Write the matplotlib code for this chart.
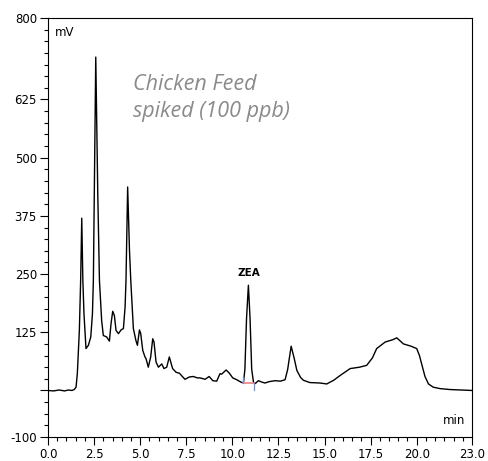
import matplotlib
matplotlib.use("Agg")
import matplotlib.pyplot as plt
from matplotlib.ticker import FixedLocator, MultipleLocator

# Chromatogram trace (time in min, signal in mV)
time_min = [0.0, 0.3, 0.6, 0.9, 1.1, 1.3, 1.42, 1.52, 1.59, 1.70, 1.77, 1.83,
            1.89, 1.95, 2.06, 2.19, 2.32, 2.41, 2.46, 2.59, 2.70, 2.79, 2.91,
            3.0, 3.18, 3.33, 3.42, 3.51, 3.6, 3.69, 3.82, 3.96, 4.09, 4.18,
            4.23, 4.32, 4.42, 4.49, 4.63, 4.77, 4.85, 4.96, 5.03, 5.14, 5.26,
            5.32, 5.44, 5.57, 5.68, 5.75, 5.86, 5.99, 6.17, 6.29, 6.44, 6.58,
            6.76, 6.95, 7.13, 7.31, 7.43, 7.67, 7.88, 8.1, 8.25, 8.52, 8.74,
            8.94, 9.15, 9.33, 9.42, 9.66, 9.84, 10.02, 10.24, 10.46, 10.6,
            10.68, 10.77, 10.87, 10.96, 11.05, 11.15, 11.25, 11.41, 11.6,
            11.77, 12.0, 12.32, 12.6, 12.86, 13.0, 13.19, 13.35, 13.5, 13.7,
            13.85, 14.2, 14.76, 15.12, 15.5, 15.84, 16.39, 16.9, 17.29, 17.6,
            17.83, 18.29, 18.7, 18.92, 19.28, 19.7, 20.0, 20.15, 20.27, 20.45,
            20.64, 20.9, 21.27, 21.8, 22.4, 23.0]
signal_mv = [0, -1, 1, -1, 1, 0, 2, 7, 36, 129, 236, 370,
             236, 165, 90, 97, 115, 165, 236, 716, 420, 236, 150,
             118, 115, 106, 144, 170, 161, 129, 122, 130, 133, 179,
             236, 437, 300, 236, 133, 107, 97, 130, 122, 86, 72,
             68, 50, 72, 111, 104, 61, 50, 57, 47, 50, 72,
             47, 39, 37, 29, 24, 29, 30, 27, 27, 24, 30,
             21, 20, 36, 35, 44, 37, 27, 23, 18, 16,
             45, 155, 226, 155, 45, 17, 15, 21, 18,
             16, 19, 21, 20, 23, 45, 95, 70, 43, 28,
             22, 17, 16, 14, 22, 32, 47, 50, 54, 70,
             90, 104, 109, 113, 100, 95, 90, 75, 57, 30,
             14, 7, 4, 2, 1, 0]

# Integration marks for the ZEA peak
zea_label = "ZEA"
zea_time = 10.87
zea_height = 226
zea_start, zea_end = 10.6, 11.18
zea_base = 16

x_major = [0.0, 2.5, 5.0, 7.5, 10.0, 12.5, 15.0, 17.5, 20.0, 23.0]
x_labels = ["0.0", "2.5", "5.0", "7.5", "10.0", "12.5", "15.0", "17.5", "20.0", "23.0"]
y_major = [-100, 0, 125, 250, 375, 500, 625, 800]
y_labels = ["-100", "", "125", "250", "375", "500", "625", "800"]

fig = plt.figure(figsize=(4.89, 4.61), dpi=100)
ax = fig.add_axes([0.0982, 0.052, 0.867, 0.909])

ax.plot(time_min, signal_mv, color="black", lw=1.0)
ax.plot([zea_start, zea_end], [zea_base, zea_base], color="#f08080", lw=1.2)
ax.plot([zea_start, zea_start], [zea_base, zea_base + 12], color="#6f8fd8", lw=0.9)
ax.plot([zea_end, zea_end], [zea_base, zea_base - 14], color="#6f8fd8", lw=0.9)
ax.text(zea_time, zea_height + 15, zea_label, ha="center", va="bottom",
        fontsize=7.5, fontweight="bold")

ax.set_xlim(0, 23)
ax.set_ylim(-100, 800)
ax.xaxis.set_major_locator(FixedLocator(x_major))
ax.set_xticklabels(x_labels)
ax.xaxis.set_minor_locator(MultipleLocator(0.5))
ax.yaxis.set_major_locator(FixedLocator(y_major))
ax.set_yticklabels(y_labels)
ax.yaxis.set_minor_locator(MultipleLocator(25))
ax.tick_params(which="major", length=6, width=0.8, labelsize=8.5, pad=2)
ax.tick_params(which="minor", length=3, width=0.8)
for s in ax.spines.values():
    s.set_linewidth(0.8)

ax.text(0.016, 0.982, "mV", transform=ax.transAxes, ha="left", va="top", fontsize=8.5)
ax.text(0.985, 0.025, "min", transform=ax.transAxes, ha="right", va="bottom", fontsize=8.5)

ax.text(4.6, 646, "Chicken Feed", ha="left", va="baseline", fontsize=15.5,
        style="italic", color="#8a8a8a", family="Open Sans")
ax.text(4.6, 588, "spiked (100 ppb)", ha="left", va="baseline", fontsize=15.5,
        style="italic", color="#8a8a8a", family="Open Sans")

fig.savefig("out.png", dpi=100)
